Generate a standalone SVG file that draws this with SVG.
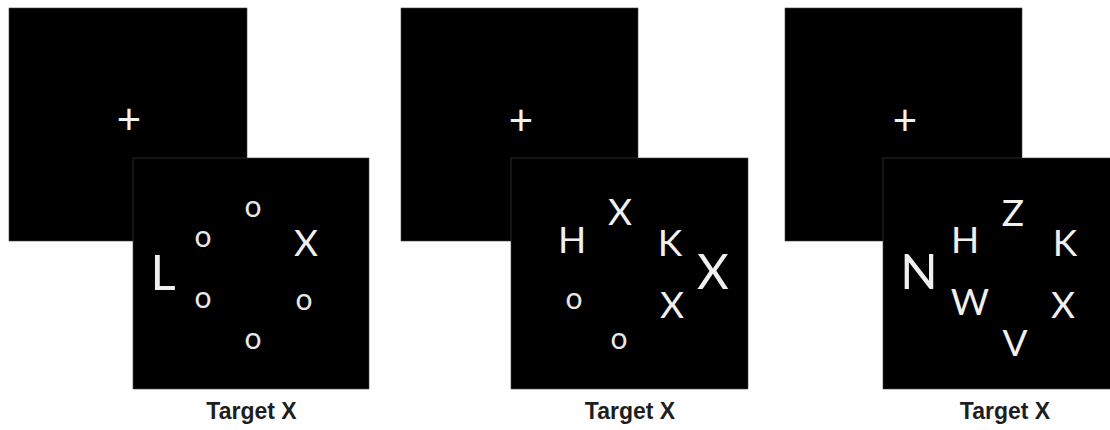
<svg xmlns="http://www.w3.org/2000/svg" width="1110" height="430" viewBox="0 0 1110 430">
<style>
.scr{fill:#000;stroke:#444;stroke-width:0.6}
.fix{font-family:Lato,"Open Sans",sans-serif;font-size:42px;fill:#f2f2f2;text-anchor:middle}
.L{font-family:Lato,"Open Sans",sans-serif;font-size:37px;fill:#f0f0f0;text-anchor:middle}
.B{font-family:Lato,"Open Sans",sans-serif;font-size:49px;fill:#f0f0f0;text-anchor:middle}
.o{font-family:Lato,"Open Sans",sans-serif;font-size:30px;fill:#e8e8e8;text-anchor:middle}
.cap{font-family:"Liberation Sans",Arial,sans-serif;font-weight:bold;font-size:23px;fill:#1e1e1e;text-anchor:middle}
</style>
<rect width="1110" height="430" fill="#fff"/>
<g id="panel1">
  <rect class="scr" x="9" y="8" width="238" height="233"/>
  <text class="fix" x="129" y="134">+</text>
  <rect class="scr" x="133" y="158" width="236" height="231"/>
  <text class="B" x="163" y="290">L</text>
  <text class="o" x="253" y="217">o</text>
  <text class="o" x="203" y="247">o</text>
  <text class="L" x="306" y="256">X</text>
  <text class="o" x="203" y="308">o</text>
  <text class="o" x="304" y="310">o</text>
  <text class="o" x="253" y="349">o</text>
  <text class="cap" x="251.5" y="419">Target X</text>
</g>
<g id="panel2">
  <rect class="scr" x="401" y="8" width="237" height="233"/>
  <text class="fix" x="521" y="135">+</text>
  <rect class="scr" x="511" y="158" width="237" height="231"/>
  <text class="L" x="620" y="225">X</text>
  <text class="L" x="572" y="253">H</text>
  <text class="L" x="670" y="256">K</text>
  <text class="B" x="713" y="289">X</text>
  <text class="o" x="574" y="309">o</text>
  <text class="L" x="672" y="318">X</text>
  <text class="o" x="619" y="349">o</text>
  <text class="cap" x="630" y="419">Target X</text>
</g>
<g id="panel3">
  <rect class="scr" x="785" y="8" width="237" height="233"/>
  <text class="fix" x="905" y="135">+</text>
  <rect class="scr" x="883" y="158" width="230" height="231"/>
  <text class="L" x="1013" y="226">Z</text>
  <text class="L" x="965" y="253">H</text>
  <text class="L" x="1065" y="256">K</text>
  <text class="B" x="919" y="289">N</text>
  <text class="L" x="970" y="315">W</text>
  <text class="L" x="1063" y="318">X</text>
  <text class="L" x="1015" y="356">V</text>
  <text class="cap" x="1005" y="419">Target X</text>
</g>
</svg>
